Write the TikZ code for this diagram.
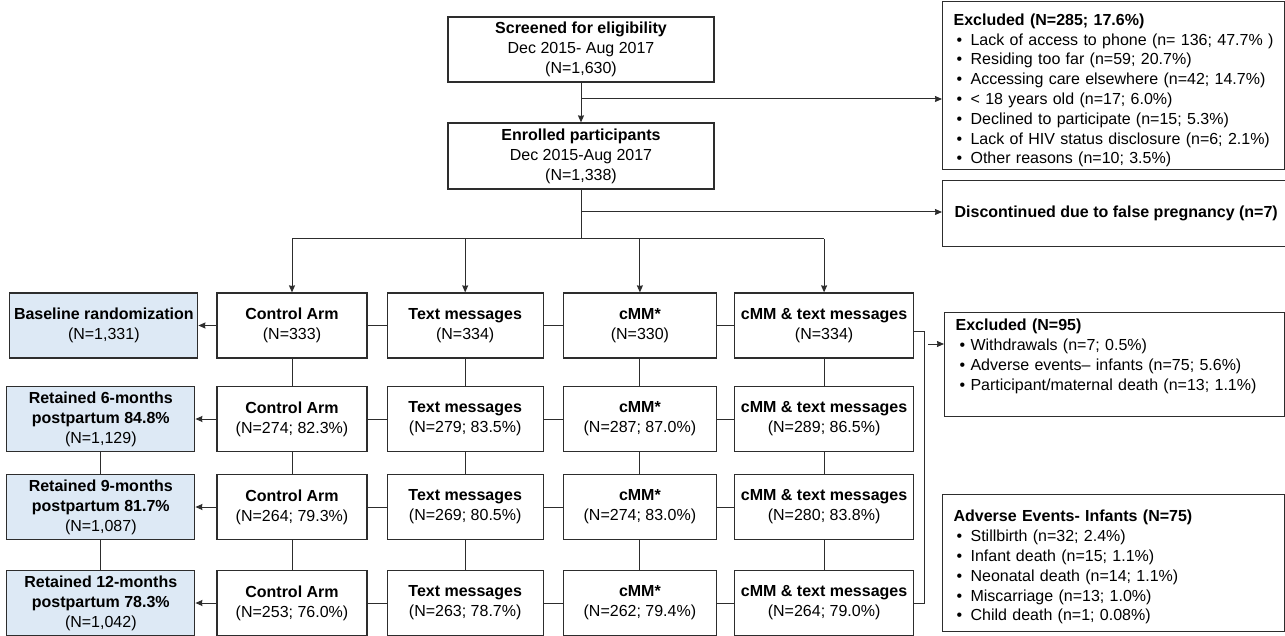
\documentclass[tikz,border=0pt]{standalone}
\usepackage{fontspec}
\setmainfont{Liberation Sans}
\usetikzlibrary{arrows.meta,positioning,calc}
\definecolor{retblue}{RGB}{221,233,245}
\definecolor{linegray}{RGB}{45,45,45}
\newcommand{\bul}{\hspace*{3pt}\makebox[14pt][l]{\textbullet}}

\begin{document}
\begin{tikzpicture}[x=1pt,y=-1pt,>={Stealth[length=7pt,width=6pt,inset=0.5pt]},
  every node/.style={font=\fontsize{16}{20}\selectfont},
  box/.style={draw=linegray,line width=1.2pt,align=center,inner sep=0pt},
  armbox/.style={box,minimum width=#1,minimum height=65pt},
  sumbox/.style={box,fill=retblue,minimum width=188pt,minimum height=65pt},
  listbox/.style={draw=linegray,line width=1.2pt,align=left,anchor=north west,
    inner xsep=11pt,inner ysep=0pt,font=\fontsize{16}{19.8}\selectfont},
  link/.style={draw=linegray,line width=1pt}]
\useasboundingbox (0,0) rectangle (1285,636);

% enrolment
\node[box,minimum width=266pt,minimum height=65pt] (scr) at (581,49.5) {\textbf{Screened for eligibility}\\Dec 2015- Aug 2017\\(N=1,630)};
\node[box,minimum width=266pt,minimum height=66pt] (enr) at (581,156) {\textbf{Enrolled participants}\\Dec 2015-Aug 2017\\(N=1,338)};
\node[listbox,text width=320pt,minimum height=168pt] (excl) at (942,1) {\rule{0pt}{21.5pt}\textbf{Excluded (N=285; 17.6\%)}\\
  \bul Lack of access to phone (n= 136; 47.7\% )\\
  \bul Residing too far (n=59; 20.7\%)\\
  \bul Accessing care elsewhere (n=42; 14.7\%)\\
  \bul < 18 years old (n=17; 6.0\%)\\
  \bul Declined to participate (n=15; 5.3\%)\\
  \bul Lack of HIV status disclosure (n=6; 2.1\%)\\
  \bul Other reasons (n=10; 3.5\%)};
\node[box,anchor=north west,minimum width=344pt,minimum height=66pt] (disc) at (942,180) {\hspace*{12pt}\makebox[332pt][l]{\textbf{Discontinued due to false pregnancy (n=7)}}};

% arms, one row per visit
\node[armbox=150pt] (ctl1) at (292,325.5) {\textbf{Control Arm}\\(N=333)};
\node[armbox=156pt,right=19pt of ctl1] (txt1) {\textbf{Text messages}\\(N=334)};
\node[armbox=153pt,right=19pt of txt1] (cmm1) {\textbf{cMM*}\\(N=330)};
\node[armbox=179pt,right=17pt of cmm1] (both1) {\textbf{cMM \& text messages}\\(N=334)};
\node[sumbox,left=18pt of ctl1] (sum1) {\textbf{Baseline randomization}\\(N=1,331)};

\node[armbox=150pt] (ctl2) at (292,419) {\textbf{Control Arm}\\(N=274; 82.3\%)};
\node[armbox=156pt,right=19pt of ctl2] (txt2) {\textbf{Text messages}\\(N=279; 83.5\%)};
\node[armbox=153pt,right=19pt of txt2] (cmm2) {\textbf{cMM*}\\(N=287; 87.0\%)};
\node[armbox=179pt,right=17pt of cmm2] (both2) {\textbf{cMM \& text messages}\\(N=289; 86.5\%)};
\node[sumbox,left=21pt of ctl2] (sum2) {\textbf{Retained 6-months}\\\textbf{postpartum 84.8\%}\\(N=1,129)};

\node[armbox=150pt] (ctl3) at (292,507) {\textbf{Control Arm}\\(N=264; 79.3\%)};
\node[armbox=156pt,right=19pt of ctl3] (txt3) {\textbf{Text messages}\\(N=269; 80.5\%)};
\node[armbox=153pt,right=19pt of txt3] (cmm3) {\textbf{cMM*}\\(N=274; 83.0\%)};
\node[armbox=179pt,right=17pt of cmm3] (both3) {\textbf{cMM \& text messages}\\(N=280; 83.8\%)};
\node[sumbox,left=21pt of ctl3] (sum3) {\textbf{Retained 9-months}\\\textbf{postpartum 81.7\%}\\(N=1,087)};

\node[armbox=150pt] (ctl4) at (292,603) {\textbf{Control Arm}\\(N=253; 76.0\%)};
\node[armbox=156pt,right=19pt of ctl4] (txt4) {\textbf{Text messages}\\(N=263; 78.7\%)};
\node[armbox=153pt,right=19pt of txt4] (cmm4) {\textbf{cMM*}\\(N=262; 79.4\%)};
\node[armbox=179pt,right=17pt of cmm4] (both4) {\textbf{cMM \& text messages}\\(N=264; 79.0\%)};
\node[sumbox,left=21pt of ctl4] (sum4) {\textbf{Retained 12-months}\\\textbf{postpartum 78.3\%}\\(N=1,042)};

% losses to follow-up
\node[listbox,text width=318pt,minimum height=104pt] (excl2) at (944,312) {\textbf{Excluded (N=95)}\\
  \hspace*{4pt}\textbullet\ Withdrawals (n=7; 0.5\%)\\
  \hspace*{4pt}\textbullet\ Adverse events-- infants (n=75; 5.6\%)\\
  \hspace*{4pt}\textbullet\ Participant/maternal death (n=13; 1.1\%)\\\mbox{}};
\node[listbox,text width=320pt,minimum height=137pt] (adv) at (942,494) {\rule{0pt}{20pt}\textbf{Adverse Events- Infants (N=75)}\\
  \bul Stillbirth (n=32; 2.4\%)\\
  \bul Infant death (n=15; 1.1\%)\\
  \bul Neonatal death (n=14; 1.1\%)\\
  \bul Miscarriage (n=13; 1.0\%)\\
  \bul Child death (n=1; 0.08\%)};

% connectors
\coordinate (out1) at (581,99);
\coordinate (out2) at (581,212);
\coordinate (bar) at (581,239);
\draw[link,->] (scr) -- (enr);
\draw[link,->] (out1) -- (out1 -| excl.west);
\draw[link,->] (out2) -- (out2 -| disc.west);
\draw[link] (enr) -- (bar);
\draw[link] (bar -| ctl1) -- (bar -| both1);
\foreach \c in {ctl1,txt1,cmm1,both1}
  \draw[link,->] (bar -| \c) -- (\c);

\foreach \r in {1,...,4} {
  \draw[link,->] (ctl\r) -- (sum\r);
  \draw[link] (ctl\r) -- (txt\r) (txt\r) -- (cmm\r) (cmm\r) -- (both\r);
}
\foreach \c in {ctl,txt,cmm,both}
  \draw[link] (\c1) -- (\c2);
\foreach \c in {sum,ctl,txt,cmm,both}
  \draw[link] (\c2) -- (\c3) (\c3) -- (\c4);

\coordinate (brk) at (924,470);
\coordinate (brkout) at (928,344);
\draw[link] ([yshift=-6pt]both1.east) -| (brk) |- (both4.east);
\draw[link,->] (brkout) -- (brkout -| excl2.west);
\end{tikzpicture}
\end{document}
